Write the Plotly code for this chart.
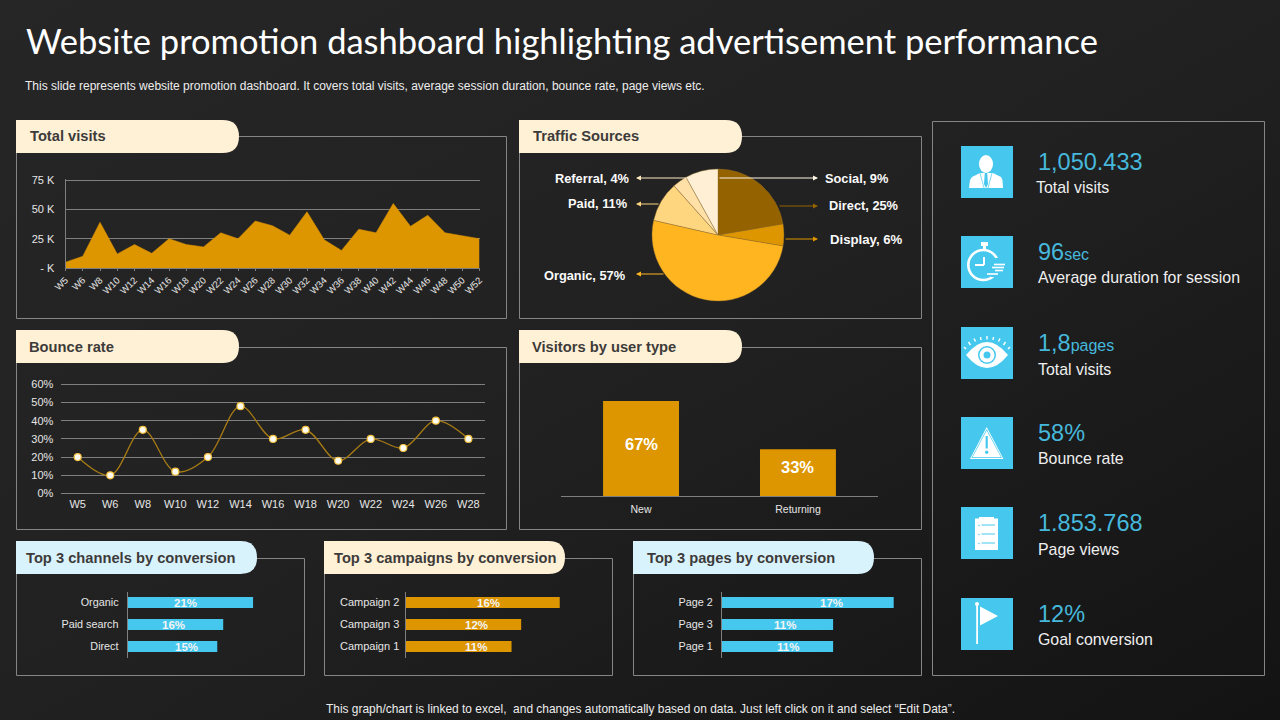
# website promotion dashboard, one figure with hand placed axes
import plotly.graph_objects as go

W = 1280
H = 720

BLUE = "#46C8EE"
GOLD = "#DD9500"
CREAM = "#FFF1D6"
LIGHT_BLUE = "#D9F3FC"
GRID = "#7F7F7F"
TXT = "#E6E6E6"
FONT = "Liberation Sans"


# pixel helpers, the reference was measured in screen pixels
def px(x):
    return x / W


def py(y):
    return 1 - y / H


def xdom(a, b):
    return [px(a), px(b)]


def ydom(top, bottom):
    return [py(bottom), py(top)]


# data
weeks = ["W5", "W6"] + ["W%d" % w for w in range(8, 53, 2)]
visits = [5, 10, 39, 12, 20, 12.5, 25, 20, 18, 30, 25, 40, 36, 28, 48, 24, 15, 33, 30, 55, 35.5, 45, 30, 27.5, 25]

bounce_weeks = ["W5", "W6", "W8", "W10", "W12", "W14", "W16", "W18", "W20", "W22", "W24", "W26", "W28"]
bounce = [20, 10, 35, 12, 20, 48, 30, 35, 18, 30, 25, 40, 30]

sources = ["Direct", "Display", "Organic", "Paid", "Referral", "Social"]
source_vals = [25, 6, 57, 11, 4, 9]
source_cols = ["#946300", "#DD9500", "#FFB520", "#FFD680", "#FFE0A6", "#FFF0D5"]

user_types = ["New", "Returning"]
user_vals = [67, 33]
user_lab = [36.7, 20.4]

channels = ["Organic", "Paid search", "Direct"]
channel_vals = [21, 16, 15]
channel_lab = [9.6, 7.6, 9.8]
campaigns = ["Campaign 2", "Campaign 3", "Campaign 1"]
campaign_vals = [16, 12, 11]
campaign_lab = [8.6, 7.4, 7.3]
pages = ["Page 2", "Page 3", "Page 1"]
page_vals = [17, 11, 11]
page_lab = [10.8, 6.2, 6.5]

fig = go.Figure()
shapes = []
notes = []


def add_text(x, y, text, size=12, color=TXT, anchor="left", bold=False, family=FONT):
    if bold:
        text = "<b>" + text + "</b>"
    notes.append(dict(x=px(x), y=py(y), xref="paper", yref="paper", text=text, showarrow=False,
                      xanchor=anchor, yanchor="middle", align=anchor, borderpad=0,
                      font=dict(size=size, color=color, family=family)))


def panel(x0, y0, x1, y1):
    # half pixel offset keeps the 1 px frame crisp
    shapes.append(dict(type="rect", xref="paper", yref="paper", layer="below",
                       x0=px(x0 + 0.5), x1=px(x1 + 0.5), y0=py(y0 + 0.5), y1=py(y1 + 0.5),
                       line=dict(color="#858585", width=1), fillcolor="rgba(0,0,0,0)"))


def pill(x0, y0, x1, y1, title, color, tx, dy=0):
    # flat on the left, round on the right
    r = (y1 - y0) / 2
    p = "M %f %f L %f %f Q %f %f %f %f Q %f %f %f %f L %f %f Z" % (
        px(x0), py(y0), px(x1 - r), py(y0),
        px(x1), py(y0), px(x1), py(y0 + r),
        px(x1), py(y1), px(x1 - r), py(y1),
        px(x0), py(y1))
    shapes.append(dict(type="path", xref="paper", yref="paper", path=p, fillcolor=color, line=dict(width=0)))
    add_text(tx, (y0 + y1) / 2 + dy, title, size=14.7, color="#3D3B3A", bold=True)


# panels and headers
panel(16, 136, 506, 318)
panel(16, 347, 506, 529)
panel(519, 136, 921, 318)
panel(519, 347, 921, 529)
panel(16, 558, 304, 675)
panel(324, 558, 612, 675)
panel(633, 558, 921, 675)
panel(932, 121, 1264, 675)

pill(16, 120, 239, 153, "Total visits", CREAM, 29, dy=-1)
pill(16, 330, 239, 363, "Bounce rate", CREAM, 28, dy=1)
pill(519, 120, 742, 153, "Traffic Sources", CREAM, 532, dy=-1)
pill(519, 330, 742, 363, "Visitors by user type", CREAM, 531, dy=1)
pill(16, 541, 257, 574, "Top 3 channels by conversion", LIGHT_BLUE, 25)
pill(324, 541, 565, 574, "Top 3 campaigns by conversion", CREAM, 333)
pill(633, 541, 874, 574, "Top 3 pages by conversion", LIGHT_BLUE, 646)

# total visits area
fig.add_trace(go.Scatter(x=weeks, y=visits, mode="lines", fill="tozeroy", fillcolor=GOLD,
                         line=dict(color=GOLD, width=0.5), xaxis="x", yaxis="y", hoverinfo="x+y"))

# bounce rate line
fig.add_trace(go.Scatter(x=bounce_weeks, y=bounce, mode="lines+markers",
                         line=dict(color="#A67A14", width=1.3, shape="spline", smoothing=1.0),
                         marker=dict(size=7, color="#FFFDF2", line=dict(color="#F5C242", width=1.2)),
                         xaxis="x2", yaxis="y2"))

# traffic sources
fig.add_trace(go.Pie(labels=sources, values=source_vals, sort=False, direction="clockwise", rotation=0,
                     marker=dict(colors=source_cols, line=dict(color="#8A6A2A", width=0.4)),
                     textinfo="none", domain=dict(x=xdom(652, 784), y=ydom(169, 301))))

# visitors by type
fig.add_trace(go.Bar(x=user_types, y=user_vals, marker=dict(color=GOLD, line=dict(width=0)), width=0.484,
                     xaxis="x3", yaxis="y3"))
for c, v, l in zip(user_types, user_vals, user_lab):
    notes.append(dict(x=c, y=l, xref="x3", yref="y3", text="<b>%d%%</b>" % v, showarrow=False,
                      font=dict(size=16.5, color="white", family=FONT)))

# top 3 bars
fig.add_trace(go.Bar(y=channels, x=channel_vals, orientation="h", width=0.5, marker=dict(color=BLUE, line=dict(width=0)),
                     xaxis="x4", yaxis="y4"))
fig.add_trace(go.Bar(y=campaigns, x=campaign_vals, orientation="h", width=0.5, marker=dict(color=GOLD, line=dict(width=0)),
                     xaxis="x5", yaxis="y5"))
fig.add_trace(go.Bar(y=pages, x=page_vals, orientation="h", width=0.5, marker=dict(color=BLUE, line=dict(width=0)),
                     xaxis="x6", yaxis="y6"))

for ax, cats, vals, labs in [("4", channels, channel_vals, channel_lab),
                             ("5", campaigns, campaign_vals, campaign_lab),
                             ("6", pages, page_vals, page_lab)]:
    for c, v, l in zip(cats, vals, labs):
        notes.append(dict(x=l, y=c, xref="x" + ax, yref="y" + ax, text="<b>%d%%</b>" % v, showarrow=False,
                          font=dict(size=11.5, color="#F4F4F4", family=FONT)))

# arrows of the pie labels
for tip, tail, col in [((818, 178), (718, 178), "#FFF6E5"), ((818, 206), (778, 206), "#946300"),
                       ((818, 239), (784, 239), "#DD9500"), ((636, 178), (688, 178), "#FFE9C0"),
                       ((636, 204), (660, 204), "#FFD680"), ((636, 274), (665, 274), "#FFB520")]:
    notes.append(dict(x=px(tip[0]), y=py(tip[1]), xref="paper", yref="paper", text="", showarrow=True,
                      ax=tail[0] - tip[0], ay=tail[1] - tip[1], axref="pixel", ayref="pixel",
                      arrowhead=2, arrowsize=1, arrowwidth=1, arrowcolor=col))

add_text(554, 178, "Referral, 4%", size=12.8, color="#FAFAFA", bold=True)
add_text(567, 203, "Paid, 11%", size=12.8, color="#FAFAFA", bold=True)
add_text(543, 275, "Organic, 57%", size=12.8, color="#FAFAFA", bold=True)
add_text(824, 178, "Social, 9%", size=12.8, color="#FAFAFA", bold=True)
add_text(828, 205, "Direct, 25%", size=12.8, color="#FAFAFA", bold=True)
add_text(829, 239.5, "Display, 6%", size=13.2, color="#FAFAFA", bold=True)

# title and notes
add_text(25, 40.5, "Website promotion dashboard highlighting advertisement performance", size=34.5, color="white", family="Lato")
add_text(24, 86, "This slide represents website promotion dashboard. It covers total visits, average session duration, bounce rate, page views etc.", size=12, color="#EDEDED")
add_text(640, 709, "This graph/chart is linked to excel,  and changes automatically based on data. Just left click on it and select \u201cEdit Data\u201d.", size=11.95, color="#EDEDED", anchor="center")

# kpi column
KPI = "#46B8DC"
small = "<span style='font-size:16px'>%s</span>"
kpis = [(162, 188, 1035, "1,050.433", "Total visits"),
        (252, 277, 1037, "96" + small % "sec", "Average duration for session"),
        (343, 370, 1037, "1,8" + small % "pages", "Total visits"),
        (432.5, 458, 1037, "58%", "Bounce rate"),
        (522.5, 549, 1037, "1.853.768", "Page views"),
        (613.5, 639, 1037, "12%", "Goal conversion")]
for y1, y2, lx, val, lab in kpis:
    add_text(1037, y1, val, size=23.5, color=KPI)
    add_text(lx, y2, lab, size=15.9, color="#EFEFEF")

# icons, local coordinates inside a 52 px square
tops = [146, 236, 327, 417, 507, 598]


def ix(t, x):
    return px(961 + x)


def iy(t, y):
    return py(t + y)


def box(t, x0, y0, x1, y1, fill="white", kind="rect", line=None):
    shapes.append(dict(type=kind, xref="paper", yref="paper", x0=ix(t, x0), x1=ix(t, x1), y0=iy(t, y0), y1=iy(t, y1),
                       fillcolor=fill, line=line or dict(width=0)))


def seg(t, x0, y0, x1, y1, color="white", width=1.5):
    shapes.append(dict(type="line", xref="paper", yref="paper", x0=ix(t, x0), x1=ix(t, x1), y0=iy(t, y0), y1=iy(t, y1),
                       line=dict(color=color, width=width)))


def poly(t, pts, fill="white"):
    p = "M " + " L ".join("%f %f" % (ix(t, a), iy(t, b)) for a, b in pts) + " Z"
    shapes.append(dict(type="path", xref="paper", yref="paper", path=p, fillcolor=fill, line=dict(width=0)))


for t in tops:
    box(t, 0, 0, 52, 52, fill=BLUE)

# person
t = tops[0]
box(t, 18, 9, 32, 27, kind="circle")
poly(t, [(8, 42), (9, 34), (11, 31), (19, 27), (32, 27), (40, 31), (41.5, 34), (42, 42)])
poly(t, [(23.8, 27), (26.2, 27), (27, 38), (25, 42), (23, 38)], fill=BLUE)
seg(t, 19, 27, 23, 42, color=BLUE, width=0.7)
seg(t, 31, 27, 27, 42, color=BLUE, width=0.7)

# stopwatch
t = tops[1]
box(t, 7.3, 14, 37.3, 44, fill="rgba(0,0,0,0)", kind="circle", line=dict(color="white", width=2.6))
box(t, 30, 22, 46, 41, fill=BLUE)
box(t, 20, 6, 27, 10, kind="rect")
box(t, 22, 9, 25, 14, kind="rect")
seg(t, 14, 29, 23, 29, width=2)
seg(t, 23, 21, 23, 29, width=2)
for y, a, b in [(28.5, 33, 44), (31.5, 31, 43), (34.5, 34, 42), (38, 26, 37)]:
    seg(t, a, y, b, y, width=1.6)

# eye
t = tops[2]
p = "M %f %f Q %f %f %f %f Q %f %f %f %f Z" % (
    ix(t, 5), iy(t, 28), ix(t, 26), iy(t, 2), ix(t, 47), iy(t, 28), ix(t, 26), iy(t, 54), ix(t, 5), iy(t, 28))
shapes.append(dict(type="path", xref="paper", yref="paper", path=p, fillcolor="white", line=dict(width=0)))
box(t, 17, 19, 35, 37, fill=BLUE, kind="circle")
box(t, 18.5, 20.5, 33.5, 35.5, kind="circle")
box(t, 22.5, 24.5, 29.5, 31.5, fill=BLUE, kind="circle")
for a, b, c, d in [(5, 22, 3, 20), (9.5, 18, 7.5, 15), (14.5, 14.5, 13, 11.5), (20, 13, 19.5, 10), (26, 12.5, 26, 9),
                   (32, 13, 32.5, 10), (37.5, 14.5, 39, 11.5), (42.5, 18, 44.5, 15), (47, 22, 49, 20)]:
    seg(t, a, b, c, d, width=1.4)

# warning
t = tops[3]
poly(t, [(25.7, 10), (42.5, 42), (9, 42)])
poly(t, [(25.7, 12), (41, 41), (10.5, 41)], fill=BLUE)
poly(t, [(25.7, 13.5), (40, 40.2), (11.5, 40.2)])
box(t, 24.6, 19, 26.8, 31.5, fill=BLUE)
box(t, 24, 33.5, 27.4, 37, fill=BLUE, kind="circle")

# clipboard
t = tops[4]
box(t, 14, 11.5, 37, 43)
box(t, 18, 10, 33, 13)
for y in [18, 27, 36]:
    seg(t, 20.5, y, 34, y, color=BLUE, width=1)
    seg(t, 17, y, 19, y + 1, color=BLUE, width=0.8)

# flag
t = tops[5]
box(t, 15.2, 6, 17, 46)
box(t, 14, 4, 18, 8, kind="circle")
poly(t, [(19, 8.5), (37, 18), (19, 27.5)])

# axes, the value ranges run a little past the end ticks so the end gridlines still draw
axis_font = dict(size=11, color=TXT, family=FONT)
tv_y = dict(domain=ydom(178.83, 268), range=[0, 76], tickvals=[0, 25, 50, 75], ticktext=["- K", "25 K", "50 K", "75 K"],
            showgrid=True, gridcolor=GRID, gridwidth=1, zeroline=False, showline=True, linecolor=GRID, ticks="",
            tickfont=axis_font, anchor="x", ticklabelstandoff=8)
tv_x = dict(domain=xdom(65.5, 479.5), range=[0, 24], type="category", categoryorder="array", categoryarray=weeks,
            tickangle=-45, tickfont=dict(size=9.5, color=TXT, family=FONT), showgrid=False, zeroline=False,
            showline=True, linecolor=GRID, ticks="outside", ticklen=2, tickcolor=GRID, anchor="y", dtick=1)

br_y = dict(domain=ydom(382.48, 495.32), range=[-1, 61], tickvals=[0, 10, 20, 30, 40, 50, 60],
            ticktext=["0%", "10%", "20%", "30%", "40%", "50%", "60%"],
            showgrid=True, gridcolor=GRID, zeroline=False, showline=False, ticks="", tickfont=axis_font, anchor="x2",
            ticklabelstandoff=7)
br_x = dict(domain=xdom(61.4, 484.7), range=[-0.5, 12.5], type="category", categoryorder="array",
            categoryarray=bounce_weeks, tickfont=axis_font, showgrid=False, zeroline=False, showline=False,
            ticks="", anchor="y2", tickangle=0, ticklabelstandoff=1)

ut_y = dict(domain=ydom(380, 496), range=[0, 81.8], visible=False, anchor="x3")
ut_x = dict(domain=xdom(561, 878), range=[-0.51, 1.51], type="category", tickfont=dict(size=10.5, color=TXT, family=FONT),
            showgrid=False, zeroline=False, showline=True, linecolor=GRID, ticks="", anchor="y3", ticklabelstandoff=3)


def top3(x0, x1, per, cats, ax, size, standoff):
    xa = dict(domain=xdom(x0, x1), range=[0, (x1 - x0) / per], visible=False, anchor="y" + ax)
    ya = dict(domain=ydom(591.5, 657.5), range=[2.5, -0.5], type="category", categoryorder="array", categoryarray=cats,
              tickfont=dict(size=size, color=TXT, family=FONT), showgrid=False, zeroline=False, showline=True,
              linecolor=GRID, ticks="", anchor="x" + ax, ticklabelstandoff=standoff)
    return xa, ya


x4, y4 = top3(127.7, 297, 5.97, channels, "4", 10.8, 6)
x5, y5 = top3(405.5, 605, 9.64, campaigns, "5", 11, 3)
x6, y6 = top3(722, 915, 10.1, pages, "6", 10.8, 6)

fig.update_layout(width=W, height=H, margin=dict(l=0, r=0, t=0, b=0, pad=0, autoexpand=False), autosize=False,
                  paper_bgcolor="rgba(0,0,0,0)", plot_bgcolor="rgba(0,0,0,0)", showlegend=False,
                  font=dict(family=FONT), bargap=0.5,
                  xaxis=tv_x, yaxis=tv_y, xaxis2=br_x, yaxis2=br_y, xaxis3=ut_x, yaxis3=ut_y,
                  xaxis4=x4, yaxis4=y4, xaxis5=x5, yaxis5=y5, xaxis6=x6, yaxis6=y6,
                  shapes=shapes, annotations=notes)

# page background is the slide's dark gradient, body margin removed so pixels line up
fig.write_html("out.html", config=dict(displayModeBar=False),
               post_script="document.body.style.margin='0';document.body.style.overflow='hidden';"
               "document.documentElement.style.background='linear-gradient(to bottom right,#262626 0%,#212121 50%,#131313 100%)';"
               "document.documentElement.style.height='100%';")
